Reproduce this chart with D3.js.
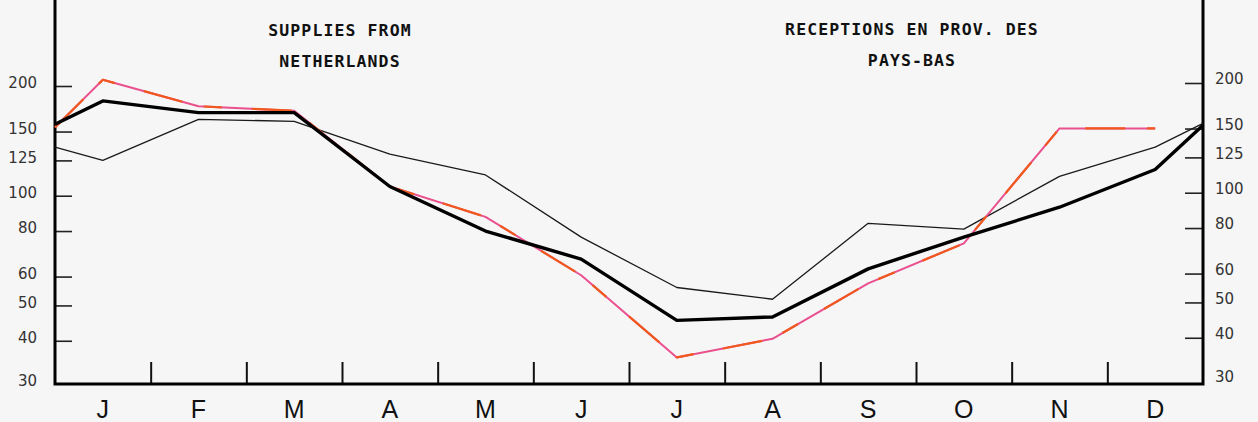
<!DOCTYPE html>
<html>
<head>
<meta charset="utf-8">
<script src="https://cdn.jsdelivr.net/npm/d3@7"></script>
<style>
  html, body { margin: 0; padding: 0; background: #f6f6f6; }
  svg { display: block; }
</style>
</head>
<body>
<svg id="chart" width="1258" height="422"></svg>
<script>
// ---- data ----
const months = ["J", "F", "M", "A", "M", "J", "J", "A", "S", "O", "N", "D"];
const yTicks = [200, 150, 125, 100, 80, 60, 50, 40];
const yLabels = [200, 150, 125, 100, 80, 60, 50, 40, 30];

// thick black line (edge values at the left and right axes)
const thickStart = 157;
const thickValues = [182, 169, 169, 106, 80, 67, 45.5, 46.5, 63, 77, 93, 118];
const thickEnd = 156;

// thin black line
const thinStart = 136;
const thinValues = [125, 162, 160, 130, 114, 77, 56, 52, 84, 81, 113, 136];
const thinEnd = 158;

// coloured (orange / pink) line
const colorStart = 154;
const colorValues = [208, 176, 171, 106, 87.5, 60.5, 36, 40.5, 57.5, 74, 153, 153];

const titleLeft = ["SUPPLIES FROM", "NETHERLANDS"];
const titleRight = ["RECEPTIONS EN PROV. DES", "PAYS-BAS"];

// ---- layout ----
const svg = d3.select("#chart");
const W = 1258, H = 422;
const xL = 55, xR = 1203, yBase = 384;

const xB = d3.scaleLinear().domain([0, 12]).range([xL, xR]);
const y = d3.scaleLog().domain([30, 200]).range([386.3, 86]);

svg.append("rect").attr("width", W).attr("height", H).attr("fill", "#f6f6f6");

// titles
const titleFont = "'DejaVu Sans Mono', 'Liberation Mono', monospace";
svg.selectAll("text.tl").data(titleLeft).join("text")
  .attr("class", "tl")
  .attr("x", 340).attr("y", (d, i) => 36 + i * 31)
  .attr("text-anchor", "middle")
  .style("font-family", titleFont).style("font-size", "16.5px")
  .style("font-weight", "bold").style("letter-spacing", "1.1px")
  .attr("fill", "#111").text(d => d);
svg.selectAll("text.tr").data(titleRight).join("text")
  .attr("class", "tr")
  .attr("x", 912).attr("y", (d, i) => 35 + i * 31)
  .attr("text-anchor", "middle")
  .style("font-family", titleFont).style("font-size", "16.5px")
  .style("font-weight", "bold").style("letter-spacing", "1.1px")
  .attr("fill", "#111").text(d => d);

// left axis ticks (pointing into the plot)
const leftAxis = svg.append("g").attr("transform", `translate(${xL},0)`)
  .call(d3.axisRight(y).tickValues(yTicks).tickSize(17).tickFormat(""));
leftAxis.select(".domain").remove();
leftAxis.selectAll(".tick line").attr("stroke", "#222").attr("stroke-width", 1.6);

const rightAxis = svg.append("g").attr("transform", `translate(${xR},-3)`)
  .call(d3.axisLeft(y).tickValues(yTicks).tickSize(18).tickFormat(""));
rightAxis.select(".domain").remove();
rightAxis.selectAll(".tick line").attr("stroke", "#222").attr("stroke-width", 1.6);

// tick labels
const labFont = "'DejaVu Sans', sans-serif";
svg.selectAll("text.ly").data(yLabels).join("text")
  .attr("class", "ly")
  .attr("x", 37).attr("y", d => Math.min(y(d), yBase) - 3)
  .attr("dy", "0.36em").attr("text-anchor", "end")
  .style("font-family", labFont).style("font-size", "15px")
  .attr("fill", "#333").text(d => d);
svg.selectAll("text.ry").data(yLabels).join("text")
  .attr("class", "ry")
  .attr("x", 1215).attr("y", d => Math.min(y(d), yBase) - 7)
  .attr("dy", "0.36em").attr("text-anchor", "start")
  .style("font-family", labFont).style("font-size", "15px")
  .attr("fill", "#333").text(d => d);

// bottom axis: month boundary ticks
const bottomAxis = svg.append("g").attr("transform", `translate(0,${yBase})`)
  .call(d3.axisTop(xB).tickValues(d3.range(1, 12)).tickSize(22).tickFormat(""));
bottomAxis.select(".domain").remove();
bottomAxis.selectAll(".tick line").attr("stroke", "#111").attr("stroke-width", 2);

svg.selectAll("text.month").data(months).join("text")
  .attr("class", "month")
  .attr("x", (d, i) => xB(i + 0.5)).attr("y", 418)
  .attr("text-anchor", "middle")
  .style("font-family", "'Liberation Sans', Arial, sans-serif")
  .style("font-size", "25px")
  .attr("fill", "#111").text(d => d);

// frame: left, right axes and baseline
svg.append("path")
  .attr("d", `M${xL},0 L${xL},${yBase} L${xR},${yBase} L${xR},0`)
  .attr("fill", "none").attr("stroke", "#000").attr("stroke-width", 3);

// lines
const line = d3.line().x(d => d[0]).y(d => y(d[1]));
const withEdges = (start, vals, end) => {
  const pts = [[xB(0), start]];
  vals.forEach((v, i) => pts.push([xB(i + 0.5), v]));
  if (end != null) pts.push([xB(12), end]);
  return pts;
};

svg.append("path").datum(withEdges(thinStart, thinValues, thinEnd))
  .attr("d", line).attr("fill", "none")
  .attr("stroke", "#1a1a1a").attr("stroke-width", 1.3).attr("stroke-linejoin", "round");

const colorPts = withEdges(colorStart, colorValues, null);
svg.append("path").datum(colorPts)
  .attr("d", line).attr("fill", "none")
  .attr("stroke", "#ea4f8e").attr("stroke-width", 2).attr("stroke-linejoin", "round");
svg.append("path").datum(colorPts)
  .attr("d", line).attr("fill", "none")
  .attr("stroke", "#f0581e").attr("stroke-width", 2.2)
  .attr("stroke-dasharray", "40,22,18,30").attr("stroke-linejoin", "round");

svg.append("path").datum(withEdges(thickStart, thickValues, thickEnd))
  .attr("d", line).attr("fill", "none")
  .attr("stroke", "#000").attr("stroke-width", 3.4).attr("stroke-linejoin", "round");
</script>
</body>
</html>
